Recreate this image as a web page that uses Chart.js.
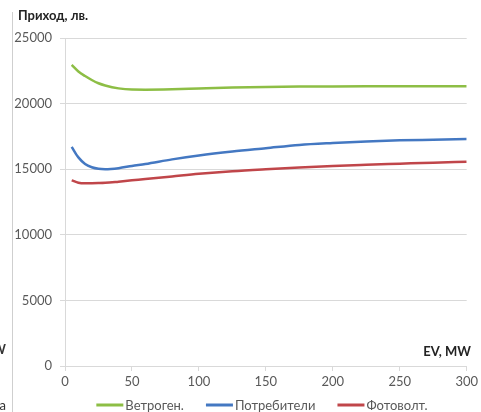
<!DOCTYPE html>
<html>
<head>
<meta charset="utf-8">
<script src="https://cdn.jsdelivr.net/npm/chart.js@4/dist/chart.umd.min.js"></script>
<style>
  html, body { margin: 0; padding: 0; background: #fff; }
  #wrap { width: 481px; height: 412px; position: relative; }
</style>
</head>
<body>
<div id="wrap"><canvas id="chart"></canvas></div>
<script>
// EV capacity, MW
const evMW = [5, 10, 15, 20, 25, 30, 40, 50, 60, 80, 100, 125, 150, 175, 200, 225, 250, 275, 300];

// income, lv.
const windIncome     = [22950, 22450, 22100, 21800, 21550, 21380, 21160, 21070, 21060, 21090, 21150, 21220, 21270, 21300, 21310, 21315, 21315, 21315, 21315];
const consumerIncome = [16700, 15900, 15400, 15150, 15030, 15000, 15080, 15250, 15400, 15750, 16050, 16350, 16600, 16850, 17000, 17120, 17200, 17250, 17300];
const solarIncome    = [14150, 13970, 13930, 13930, 13940, 13960, 14050, 14150, 14250, 14450, 14650, 14850, 15000, 15130, 15250, 15340, 15420, 15500, 15570];

const seriesNames = ['Ветроген.', 'Потребители', 'Фотоволт.'];
const seriesColors = ['#8dbe45', '#4478c2', '#c0464a'];

const yTicks = [0, 5000, 10000, 15000, 20000, 25000];
const xTicks = [0, 50, 100, 150, 200, 250, 300];

const yTitle = 'Приход, лв.';
const xTitle = 'EV, MW';

const FONT = 'Lato, "Open Sans", "Liberation Sans", sans-serif';
const TEXT = '#595959';
const GRID = '#d9d9d9';

const toPoints = (vals) => vals.map((v, i) => ({ x: evMW[i], y: v }));

// axis titles, custom legend and the grey frame line on the left
const decorations = {
  id: 'decorations',
  afterDraw(chart) {
    const ctx = chart.ctx;
    ctx.save();

    ctx.strokeStyle = '#cfcfcf';
    ctx.lineWidth = 1;
    ctx.beginPath();
    ctx.moveTo(12.5, 12);
    ctx.lineTo(12.5, 412);
    ctx.stroke();

    // cut-off letters of the neighbouring chart at the far left
    ctx.fillStyle = '#333';
    ctx.font = 'bold 13px ' + FONT;
    ctx.textBaseline = 'middle';
    ctx.textAlign = 'right';
    ctx.fillText('W', 6, 350);
    ctx.font = '13px ' + FONT;
    ctx.fillText('a', 6, 406);

    ctx.fillStyle = '#222';
    ctx.font = 'bold 13px ' + FONT;
    ctx.textAlign = 'left';
    ctx.fillText(yTitle, 18, 16);
    ctx.textAlign = 'right';
    ctx.fillText(xTitle, 471, 352);

    // legend
    ctx.font = '13px ' + FONT;
    const lineLen = 27, gap = 2, spacing = 22;
    const widths = seriesNames.map((n) => lineLen + gap + ctx.measureText(n).width);
    const total = widths.reduce((a, b) => a + b, 0) + spacing * (widths.length - 1);
    let x = 262 - total / 2;
    const y = 405;
    chart.data.datasets.forEach((ds, i) => {
      ctx.strokeStyle = ds.borderColor;
      ctx.lineWidth = 3;
      ctx.beginPath();
      ctx.moveTo(x, y);
      ctx.lineTo(x + lineLen, y);
      ctx.stroke();
      ctx.fillStyle = TEXT;
      ctx.textAlign = 'left';
      ctx.fillText(ds.label, x + lineLen + gap, y + 1);
      x += widths[i] + spacing;
    });
    ctx.restore();
  }
};

new Chart(document.getElementById('chart'), {
  type: 'line',
  data: {
    datasets: [windIncome, consumerIncome, solarIncome].map((vals, i) => ({
      label: seriesNames[i],
      data: toPoints(vals),
      borderColor: seriesColors[i],
      backgroundColor: seriesColors[i],
      borderWidth: 2.5,
      pointRadius: 0,
      cubicInterpolationMode: 'monotone',
      fill: false,
    })),
  },
  options: {
    responsive: true,
    maintainAspectRatio: false,
    animation: false,
    layout: { padding: { top: 38, right: 13, bottom: 0, left: 0 } },
    plugins: {
      legend: { display: false },
      tooltip: { enabled: false },
      title: { display: false },
    },
    scales: {
      x: {
        type: 'linear',
        min: 0,
        max: 300,
        afterBuildTicks: (scale) => { scale.ticks = xTicks.map((v) => ({ value: v })); },
        afterFit: (scale) => { scale.height = 46; },
        grid: { drawOnChartArea: false, drawTicks: true, tickLength: 5, color: GRID },
        border: { color: GRID },
        ticks: { color: TEXT, font: { family: FONT, size: 13 }, padding: 3, maxRotation: 0 },
      },
      y: {
        min: 0,
        max: 25000,
        afterBuildTicks: (scale) => { scale.ticks = yTicks.map((v) => ({ value: v })); },
        afterFit: (scale) => { scale.width = 65; },
        grid: { color: GRID, tickLength: 5 },
        border: { color: GRID },
        ticks: { color: TEXT, font: { family: FONT, size: 13 }, padding: 8, callback: (v) => String(v) },
      },
    },
  },
  plugins: [decorations],
});
</script>
</body>
</html>
